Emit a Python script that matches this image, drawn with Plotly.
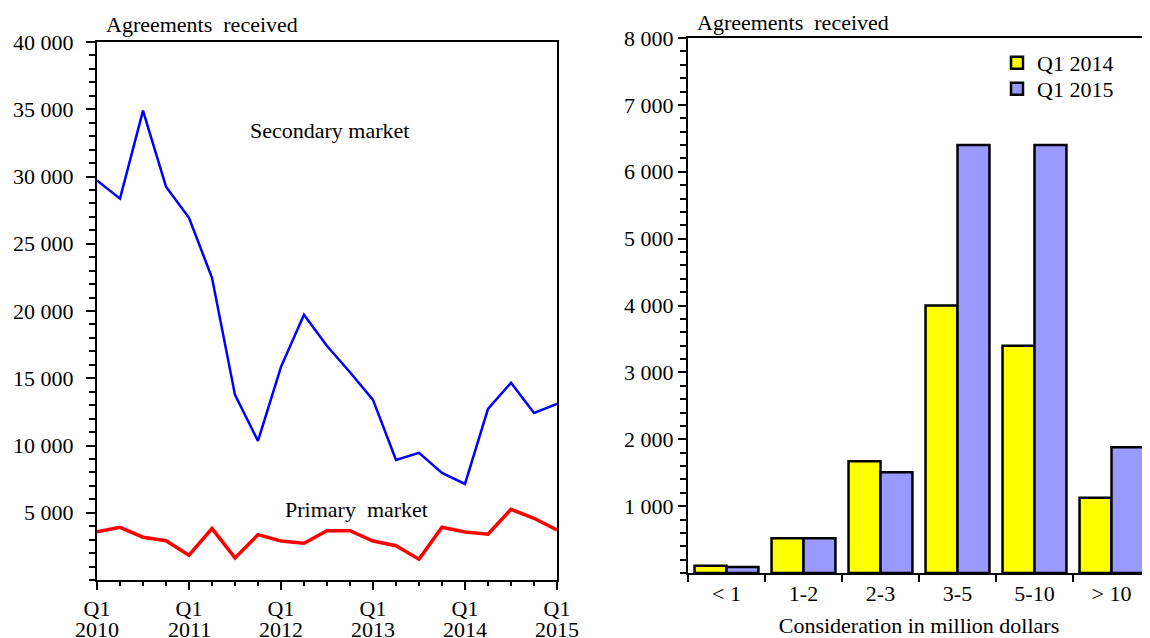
import plotly.graph_objects as go

# ---------------- data ----------------
quarters = list(range(21))  # Q1 2010 ... Q1 2015
secondary = [29700, 28350, 34900, 29240, 26930, 22470, 13760, 10340, 15850, 19720,
             17400, 15450, 13390, 8930, 9450, 7960, 7140, 12720, 14660, 12420, 13090]
primary = [3590, 3920, 3180, 2920, 1840, 3820, 1640, 3370, 2900, 2730,
           3670, 3670, 2900, 2550, 1540, 3920, 3570, 3400, 5260, 4590, 3720]
year_ticks = [0, 4, 8, 12, 16, 20]
year_labels = ["2010", "2011", "2012", "2013", "2014", "2015"]

size_cats = ["< 1", "1-2", "2-3", "3-5", "5-10", "> 10"]
q1_2014 = [110, 520, 1670, 4000, 3400, 1125]
q1_2015 = [90, 520, 1505, 6400, 6400, 1880]

left_yticks = [5000, 10000, 15000, 20000, 25000, 30000, 35000, 40000]
right_yticks = [1000, 2000, 3000, 4000, 5000, 6000, 7000, 8000]


def fmt(v):
    return f"{v:,}".replace(",", " ")


FONT = "Liberation Serif"
FS = 22
OFF = 8  # page body margin
W, H = 1150 - OFF, 638 - OFF


def px(x):
    return (x - OFF) / W


def py(y):
    return 1 - (y - OFF) / H


fig = go.Figure()

fig.add_trace(go.Scatter(x=quarters, y=secondary, mode="lines",
                         line=dict(color="#0000FF", width=2.5),
                         xaxis="x", yaxis="y", showlegend=False))
fig.add_trace(go.Scatter(x=quarters, y=primary, mode="lines",
                         line=dict(color="#FF0000", width=3.5),
                         xaxis="x", yaxis="y", showlegend=False))

fig.add_trace(go.Bar(x=size_cats, y=q1_2014, name="Q1 2014", legend="legend",
                     marker=dict(color="#FFFF00", line=dict(color="black", width=2.5)),
                     xaxis="x2", yaxis="y2"))
fig.add_trace(go.Bar(x=size_cats, y=q1_2015, name="Q1 2015", legend="legend2",
                     marker=dict(color="#9999FF", line=dict(color="black", width=2.5)),
                     xaxis="x2", yaxis="y2"))

axfont = dict(family=FONT, size=FS, color="black")

fig.update_layout(
    width=W, height=H,
    margin=dict(l=0, r=0, t=0, b=0, autoexpand=False),
    paper_bgcolor="white", plot_bgcolor="white",
    font=axfont,
    barmode="group", bargap=0.17, bargroupgap=0,
    xaxis=dict(domain=[px(97), px(557)], range=[0, 20], automargin=False,
               tickmode="array", tickvals=year_ticks, ticktext=["Q1"] * len(year_ticks),
               ticks="outside", ticklen=8, tickwidth=2, tickcolor="black",
               minor=dict(tickmode="linear", tick0=0, dtick=1, ticks="outside",
                          ticklen=4, tickwidth=2, tickcolor="black"),
               showline=True, linecolor="black", linewidth=2, mirror=True,
               showgrid=False, zeroline=False, tickfont=axfont),
    yaxis=dict(domain=[py(580), py(42)], range=[0, 40000], automargin=False,
               tickmode="array", tickvals=left_yticks, ticktext=[fmt(v) for v in left_yticks],
               ticks="outside", ticklen=9, tickwidth=2, tickcolor="black",
               ticklabelstandoff=8,
               minor=dict(tickmode="linear", tick0=0, dtick=1000, ticks="outside",
                          ticklen=6, tickwidth=2, tickcolor="black"),
               showline=True, linecolor="black", linewidth=2, mirror=True,
               showgrid=False, zeroline=False, tickfont=axfont),
    xaxis2=dict(domain=[px(688), 1.0], anchor="y2", automargin=False,
                ticks="outside", tickson="boundaries", ticklen=7, tickwidth=2, tickcolor="black",
                showline=True, linecolor="black", linewidth=2, mirror=True,
                showgrid=False, zeroline=False, tickfont=axfont,
                title=dict(text="Consideration in million dollars", font=axfont, standoff=14)),
    yaxis2=dict(domain=[py(573), py(38)], range=[0, 8000], anchor="x2",
                automargin=False,
                tickmode="array", tickvals=right_yticks, ticktext=[fmt(v) for v in right_yticks],
                ticks="outside", ticklen=8, tickwidth=2, tickcolor="black",
                minor=dict(tickmode="linear", tick0=0, dtick=200, ticks="outside",
                           ticklen=6, tickwidth=2, tickcolor="black"),
                showline=True, linecolor="black", linewidth=2, mirror=True,
                showgrid=False, zeroline=False, tickfont=axfont),
    legend=dict(x=px(997), y=py(42), xanchor="left", yanchor="top",
                font=axfont, bgcolor="rgba(0,0,0,0)", itemwidth=30),
    legend2=dict(x=px(997), y=py(68), xanchor="left", yanchor="top",
                 font=axfont, bgcolor="rgba(0,0,0,0)", itemwidth=30),
)

annotations = []
for xv, lab in zip(year_ticks, year_labels):
    annotations.append(dict(x=xv, xref="x", y=py(629), yref="paper",
                            text=lab, showarrow=False, font=axfont,
                            xanchor="center", yanchor="middle"))
annotations += [
    dict(x=px(104), y=py(24), xref="paper", yref="paper", text="Agreements  received",
         showarrow=False, font=axfont, xanchor="left", yanchor="middle"),
    dict(x=px(695), y=py(22), xref="paper", yref="paper", text="Agreements  received",
         showarrow=False, font=axfont, xanchor="left", yanchor="middle"),
    dict(x=px(329), y=py(131), xref="paper", yref="paper", text="Secondary market",
         showarrow=False, font=axfont, xanchor="center", yanchor="middle"),
    dict(x=px(356), y=py(510), xref="paper", yref="paper", text="Primary  market",
         showarrow=False, font=axfont, xanchor="center", yanchor="middle"),
]
fig.update_layout(annotations=annotations)

fig.write_html("out.html")
